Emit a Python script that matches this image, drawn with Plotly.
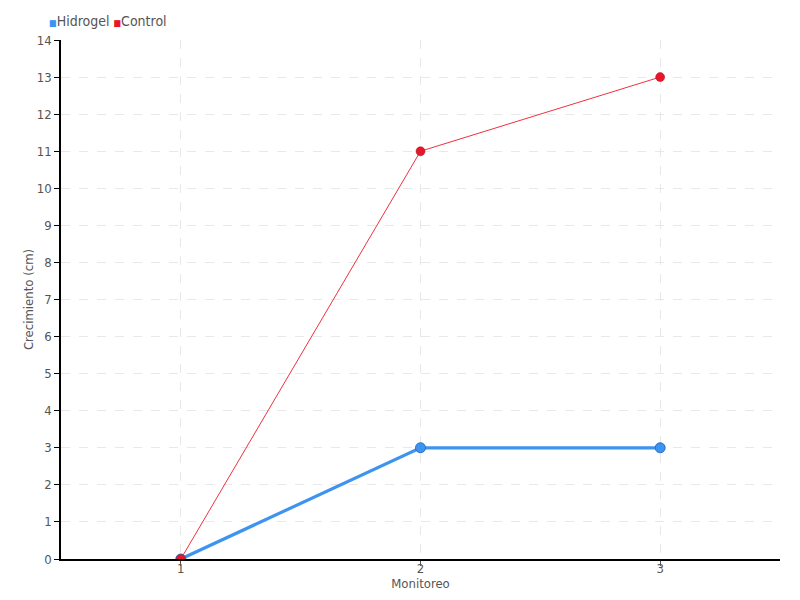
import plotly.graph_objects as go

monitoreo = [1, 2, 3]
hidrogel = [0, 3, 3]
control = [0, 11, 13]

font_family = "DejaVu Sans Condensed, Liberation Sans Narrow, sans-serif"
blue = "#3d94f0"
red = "#e8162a"

fig = go.Figure()
fig.add_trace(go.Scatter(
    x=monitoreo, y=hidrogel, name="Hidrogel", mode="lines+markers",
    line=dict(color=blue, width=3.2), showlegend=False,
    marker=dict(size=10, color=blue, line=dict(color="#2a6fc4", width=1)),
))
fig.add_trace(go.Scatter(
    x=monitoreo, y=control, name="Control", mode="lines+markers",
    line=dict(color="#f0303f", width=1), showlegend=False,
    marker=dict(size=9, color=red, line=dict(color="#b01020", width=0.5)),
))

fig.add_annotation(
    text=f'<span style="color:{blue};font-size:9px">■</span>Hidrogel '
         f'<span style="color:{red};font-size:9px">■</span>Control',
    xref="paper", yref="paper", x=-0.0195, y=1.0366, xanchor="left", yanchor="middle",
    showarrow=False, font=dict(size=14, color="#555555", family=font_family),
)

fig.update_layout(
    width=800, height=600,
    margin=dict(l=53, r=28, t=32, b=49, autoexpand=False),
    paper_bgcolor="white", plot_bgcolor="white",
    font=dict(family=font_family, size=13, color="#555555"),
    showlegend=False,
    xaxis=dict(
        range=[0.5, 3.5], tickvals=monitoreo, ticktext=[str(v) for v in monitoreo],
        showline=True, linecolor="black", linewidth=1.5,
        ticks="outside", ticklen=5, tickcolor="#555555",
        ticklabelstandoff=-8,
        showgrid=True, gridcolor="#e8e8e8", griddash="dash",
        zeroline=False,
        title=dict(text="Monitoreo", standoff=0, font=dict(size=13)),
        tickfont=dict(size=13),
    ),
    yaxis=dict(
        range=[0, 14], dtick=1,
        showline=True, linecolor="black", linewidth=1.5,
        ticks="outside", ticklen=5, tickcolor="black",
        showgrid=True, gridcolor="#e8e8e8", griddash="dash",
        zeroline=False,
        title=dict(text="Crecimiento (cm)", standoff=0, font=dict(size=13)),
        tickfont=dict(size=13),
    ),
)

fig.write_html("out.html")
